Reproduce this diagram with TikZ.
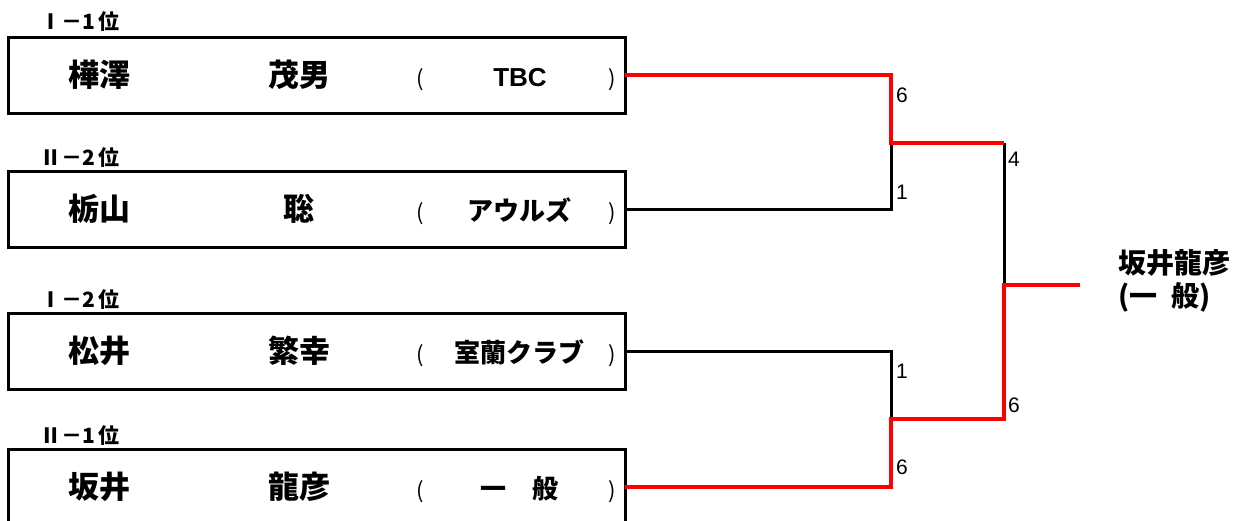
\documentclass[tikz,border=0pt]{standalone}
\usepackage{fontspec}
\setmainfont{Noto Sans CJK JP}
\newfontfamily\arialfont{Liberation Sans}
\newcommand{\player}[3]{%
  \makebox[184pt]{\fontsize{31}{31}\selectfont\bfseries #1}%
  \makebox[214pt]{\fontsize{31}{31}\selectfont\bfseries #2}%
  \makebox[28pt]{\fontsize{22}{22}\selectfont (}%
  \makebox[172pt]{\fontsize{26}{26}\selectfont\bfseries #3}%
  \makebox[12pt]{\fontsize{22}{22}\selectfont )}\hspace*{7pt}}
\tikzset{
  box/.style={draw, line width=3pt, minimum width=617pt, minimum height=76pt,
    inner sep=0pt, outer sep=0pt},
  rank/.style={anchor=west, inner sep=0pt, font=\fontsize{21}{21}\selectfont\bfseries},
  score/.style={anchor=west, inner sep=0pt, font=\fontsize{21}{21}\selectfont\arialfont},
  winner/.style={anchor=west, align=left, inner sep=0pt,
    font=\fontsize{28}{33}\selectfont\bfseries},
  lose/.style={line width=3pt},
  win/.style={red, line width=4pt}
}
\begin{document}
\begin{tikzpicture}[x=1pt, y=-1pt]
\useasboundingbox (0,0) rectangle (1234,520);
% players
\node[box] (A) at (316.5,75) {\player{樺澤}{茂男}{\arialfont TBC}};
\node[box] (B) at (316.5,209) {\player{栃山}{聡}{アウルズ}};
\node[box] (C) at (316.5,351) {\player{松井}{繁幸}{室蘭クラブ}};
\node[box] (D) at (316.5,487) {\player{坂井}{龍彦}{一　般}};
\node[rank] (rA) at (40,22) {Ⅰ－1\,位};
\node[rank] (rB) at (40,158) {Ⅱ－2\,位};
\node[rank] (rC) at (40,300) {Ⅰ－2\,位};
\node[rank] (rD) at (40,436) {Ⅱ－1\,位};
% bracket joints
\coordinate (s1) at (891,143);
\coordinate (s2) at (891,419);
\coordinate (f) at (1004,285);
\coordinate (e) at (1080,285);
\draw[lose] (B.east) -| (s1);
\draw[lose] (C.east) -| (s2);
\draw[lose] (s1 -| f) -- (f);
\draw[win] (A.east) -| (s1) -- (s1 -| f);
\draw[win] (D.east) -| (s2) -- (s2 -| f) -- (f) -- (e);
% scores
\node[score] (a1) at (896,95) {6};
\node[score] (b1) at (896,192) {1};
\node[score] (c1) at (896,371) {1};
\node[score] (d1) at (896,467) {6};
\node[score] (s1a) at (1008,159) {4};
\node[score] (s2a) at (1008,405) {6};
\node[winner] (W) at (1118,281) {坂井龍彦\\(一\hspace{14pt}般)};
\end{tikzpicture}
\end{document}
